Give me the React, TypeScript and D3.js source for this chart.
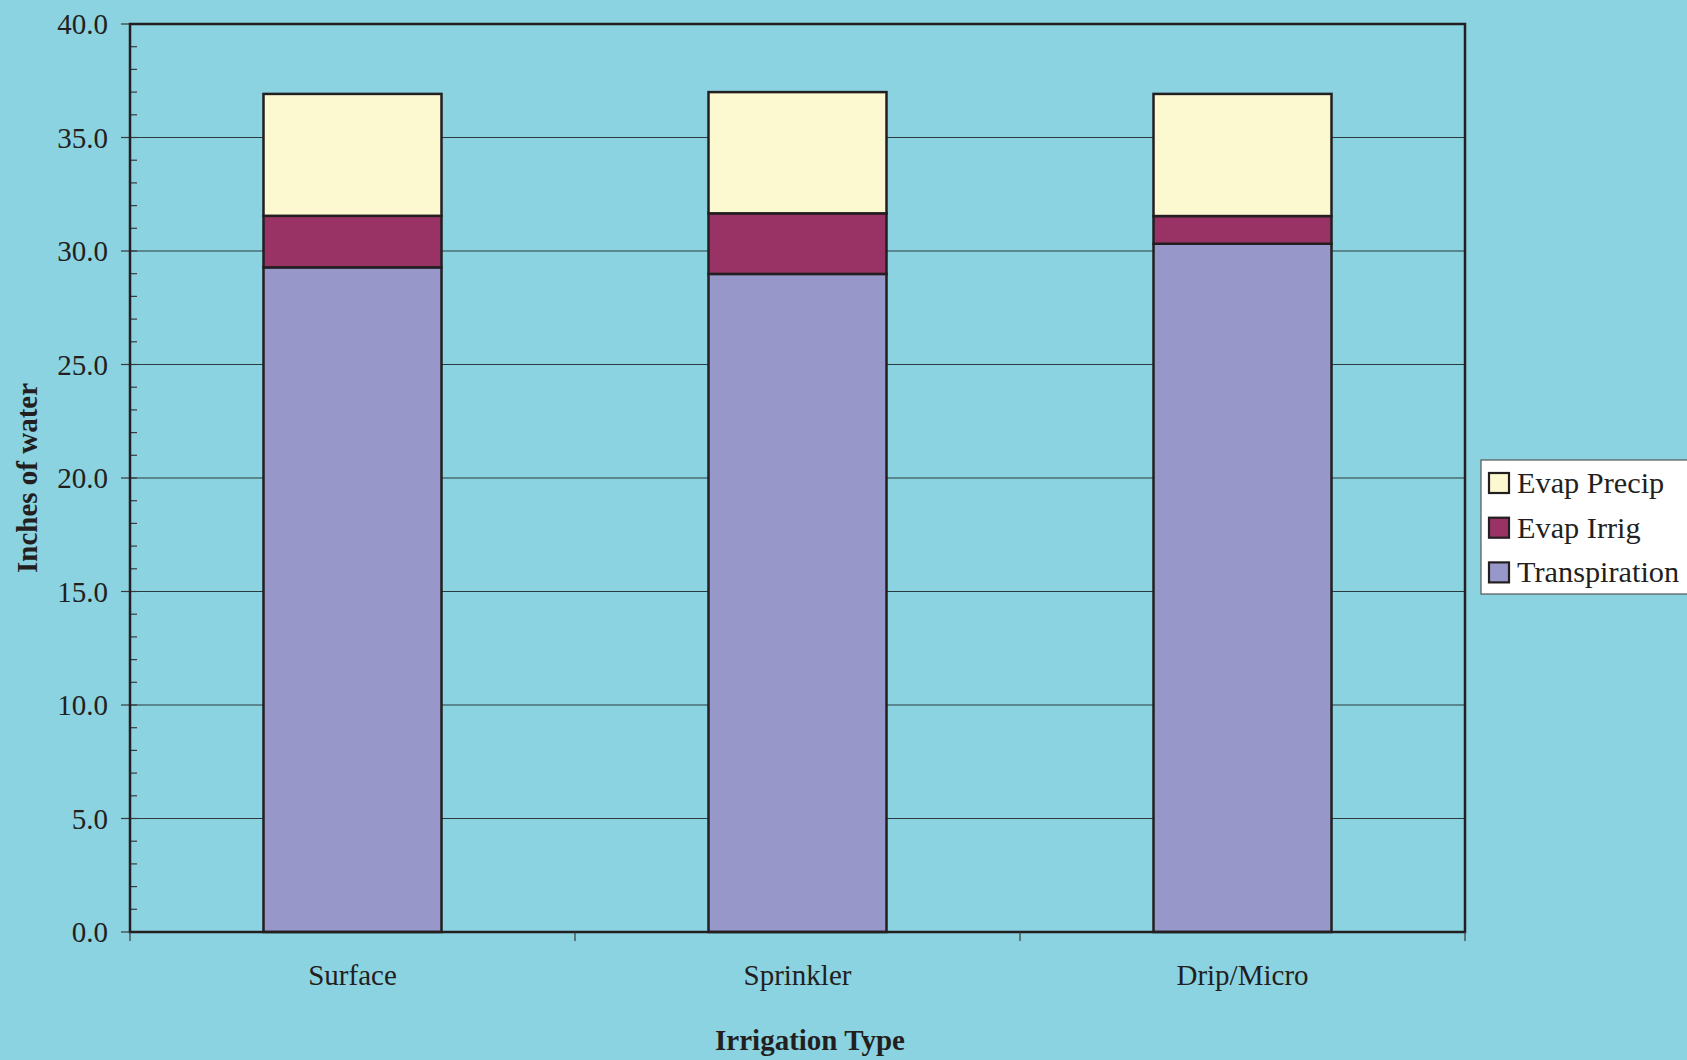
import React from "react";
import * as d3 from "d3";

const categories = ["Surface", "Sprinkler", "Drip/Micro"];
const seriesNames = ["Transpiration", "Evap Irrig", "Evap Precip"];
const transpiration = [29.28, 28.99, 30.32];
const evapIrrig = [2.27, 2.67, 1.22];
const evapPrecip = [5.37, 5.34, 5.38];
const yTicks = [0, 5, 10, 15, 20, 25, 30, 35, 40];
const minorTicks = d3.range(0, 41, 1);
const legendOrder = ["Evap Precip", "Evap Irrig", "Transpiration"];

const colors: Record<string, string> = {
  "Transpiration": "#9797CA",
  "Evap Irrig": "#993366",
  "Evap Precip": "#FCF8CF",
};

const W = 1687;
const H = 1060;
const left = 130;
const right = 1465;
const top = 24;
const bottom = 932;
const FONT = "'Liberation Serif', 'Times New Roman', serif";
const BG = "#8BD3E1";
const INK = "#231F20";

export default function App() {
  const x = d3.scaleBand<string>().domain(categories).range([left, right]).padding(0);
  const y = d3.scaleLinear().domain([0, 40]).range([bottom, top]);
  const barW = x.bandwidth() * 0.4;

  const rows = categories.map((c, i) => ({
    cat: c,
    "Transpiration": transpiration[i],
    "Evap Irrig": evapIrrig[i],
    "Evap Precip": evapPrecip[i],
  }));
  const stack = d3.stack<any>().keys(seriesNames)(rows);

  return (
    <svg
      width={W}
      height={H}
      style={{ position: "absolute", left: 0, top: 0, display: "block" }}
      fontFamily={FONT}
    >
      <rect x={0} y={0} width={W} height={H} fill={BG} />
      {/* gridlines */}
      {yTicks.filter((t) => t > 0 && t < 40).map((t) => (
        <line key={"g" + t} x1={left} x2={right} y1={y(t)} y2={y(t)} stroke="#2B3A40" strokeWidth={1.2} />
      ))}
      {/* minor ticks */}
      {minorTicks.map((t) => (
        <line key={"m" + t} x1={left} x2={left + 7} y1={y(t)} y2={y(t)} stroke="#3a3a3a" strokeWidth={1.2} />
      ))}
      {/* major ticks */}
      {yTicks.map((t) => (
        <line key={"t" + t} x1={left - 9} x2={left} y1={y(t)} y2={y(t)} stroke="#3a3a3a" strokeWidth={1.2} />
      ))}
      {/* y tick labels */}
      {yTicks.map((t) => (
        <text key={"l" + t} x={108} y={y(t)} dy="0.35em" textAnchor="end" fontSize={29} fill={INK}>
          {t.toFixed(1)}
        </text>
      ))}
      {/* bars */}
      {stack.map((s) =>
        s.map((d, i) => {
          const cx = (x(categories[i]) as number) + x.bandwidth() / 2;
          return (
            <rect
              key={s.key + i}
              x={cx - barW / 2}
              y={y(d[1])}
              width={barW}
              height={y(d[0]) - y(d[1])}
              fill={colors[s.key]}
              stroke={INK}
              strokeWidth={2.5}
            />
          );
        })
      )}
      {/* plot border */}
      <rect x={left} y={top} width={right - left} height={bottom - top} fill="none" stroke={INK} strokeWidth={2.5} />
      {/* x ticks */}
      {[...categories.map((c) => x(c) as number), right].map((v, i) => (
        <line key={"xt" + i} x1={v} x2={v} y1={bottom} y2={bottom + 9} stroke="#3a3a3a" strokeWidth={1.2} />
      ))}
      {/* x labels */}
      {categories.map((c) => (
        <text key={c} x={(x(c) as number) + x.bandwidth() / 2} y={985} textAnchor="middle" fontSize={29} fill={INK}>
          {c}
        </text>
      ))}
      {/* axis titles */}
      <text x={810} y={1050} textAnchor="middle" fontSize={29} fontWeight="bold" fill={INK}>
        Irrigation Type
      </text>
      <text
        transform={`translate(37, 478) rotate(-90)`}
        textAnchor="middle"
        fontSize={29}
        fontWeight="bold"
        fill={INK}
      >
        Inches of water
      </text>
      {/* legend */}
      <rect x={1481} y={460} width={220} height={134} fill="#FFFFFF" stroke="#555" strokeWidth={1.2} />
      {legendOrder.map((k, i) => (
        <g key={k} transform={`translate(1489, ${473 + i * 44.7})`}>
          <rect x={0} y={0} width={20} height={20} fill={colors[k]} stroke={INK} strokeWidth={2.2} />
          <text x={28} y={20} fontSize={30.3} fill={INK}>
            {k}
          </text>
        </g>
      ))}
    </svg>
  );
}
